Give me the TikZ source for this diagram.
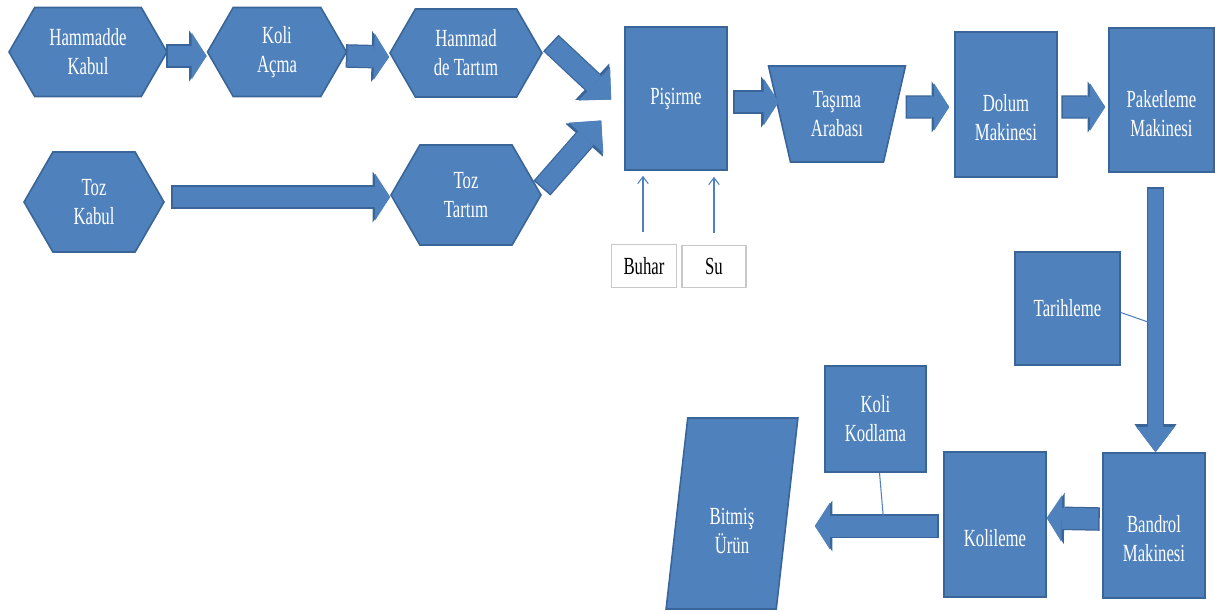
\documentclass[tikz,border=0pt]{standalone}
\usepackage{fontspec}
\setmainfont{Liberation Serif}[FakeStretch=0.68]
\usetikzlibrary{positioning,arrows.meta,shapes.geometric,shapes.symbols,calc}
\definecolor{kutumavi}{HTML}{4F81BD}
\definecolor{kenarmavi}{HTML}{3A6598}
\definecolor{kenargri}{HTML}{C8C8C8}
\newcommand{\ustbosluk}{\rule{0pt}{25pt}}

\begin{document}
\begin{tikzpicture}[x=0.02cm, y=-0.02cm,
    KT/.style={rectangle, draw=kenarmavi, fill=kutumavi, line width=0.9pt,
      text=white, font=\fontsize{14}{16.5}\selectfont, align=center,
      inner sep=1pt},
    HX/.style={KT, signal, signal to=east and west, signal pointer angle=120},
    GR/.style={rectangle, draw=kenargri, fill=white, line width=0.8pt,
      font=\fontsize{14}{16.5}\selectfont, inner sep=1pt,
      minimum width=1.3cm, minimum height=0.85cm},
    kalin/.style={draw=kutumavi, line width=0.42cm,
      -{Triangle[length=0.3cm, width=0.94cm, line width=0pt]},
      preaction={draw=kenarmavi, line width=0.47cm, shorten <=-0.03cm,
        -{Triangle[length=0.35cm, width=1.02cm, line width=0pt]}}},
    kalinc/.style={draw=kutumavi, line width=0.4cm,
      -{Triangle[length=0.46cm, width=0.92cm, line width=0pt]},
      preaction={draw=kenarmavi, line width=0.45cm, shorten <=-0.03cm,
        -{Triangle[length=0.52cm, width=1.0cm, line width=0pt]}}},
    kalind/.style={draw=kutumavi, line width=0.3cm,
      -{Triangle[length=0.5cm, width=0.76cm, line width=0pt]},
      preaction={draw=kenarmavi, line width=0.35cm, shorten <=-0.03cm,
        -{Triangle[length=0.56cm, width=0.84cm, line width=0pt]}}},
    ince/.style={draw=kutumavi, line width=0.6pt,
      -{Straight Barb[length=4pt, width=6pt]}}
  ]
    \useasboundingbox (0,0) rectangle (1215,612);

    %% ust sira (altigenler)
    \node[HX, minimum width=3.16cm, minimum height=1.78cm] (hk) at (88,52) {Hammadde\\Kabul};
    \node[HX, minimum width=2.78cm, minimum height=1.78cm] (ka) at (277,52) {Koli\\Açma};
    \node[HX, minimum width=3.04cm, minimum height=1.76cm] (ht) at (466,53) {Hammad\\de Tartım};

    %% toz hatti
    \node[HX, minimum width=2.8cm, minimum height=2.0cm] (tk) at (94,202) {Toz\\Kabul};
    \node[HX, minimum width=3.0cm, minimum height=2.0cm] (tt) at (466,195) {Toz\\Tartım};

    %% pisirme ve girdiler
    \node[KT, minimum width=2.04cm, minimum height=2.86cm] (pis) at (676,98.5) {Pişirme};
    \node[GR] (buhar) at (644,266) {Buhar};
    \node[GR, minimum width=1.28cm] (su) at (714,266.5) {Su};

    %% tasima ve makineler
    \node[KT, trapezium, shape border rotate=180, trapezium left angle=75,
      trapezium right angle=75, trapezium stretches=true,
      minimum width=2.74cm, minimum height=1.92cm] (ta) at (837,114) {Taşıma\\Arabası};
    \node[KT, minimum width=2.04cm, minimum height=2.9cm] (dm) at (1006,104.5) {\ustbosluk Dolum\\Makinesi};
    \node[KT, minimum width=2.1cm, minimum height=2.88cm] (pk) at (1161.5,100) {\ustbosluk Paketleme\\Makinesi};
    \node[KT, minimum width=2.1cm, minimum height=2.26cm] (th) at (1067.5,308.5) {Tarihleme};

    %% alt sira
    \node[KT, minimum width=2.04cm, minimum height=2.9cm] (bm) at (1154,525.5) {\ustbosluk Bandrol\\Makinesi};
    \node[KT, minimum width=2.04cm, minimum height=2.9cm] (kl) at (995,524.5) {\ustbosluk Kolileme};
    \node[KT, minimum width=2.02cm, minimum height=2.12cm] (kk) at (875.5,419) {Koli\\Kodlama};
    \node[KT, trapezium, trapezium left angle=82, trapezium right angle=98,
      trapezium stretches=true,
      minimum width=2.64cm, minimum height=3.82cm] (bu) at (732,513.5) {\rule{0pt}{29pt}Bitmiş\\Ürün};

    %% Oklar
    \draw[kalin] ([yshift=-0.08cm]hk.east) -- ([yshift=-0.08cm]ka.west);
    \draw[kalin] ([yshift=-0.08cm]ka.east) -- ([yshift=-0.08cm]ht.west);
    \draw[kalin] ([xshift=0.16cm, yshift=0.1cm]tk.east) coordinate (p4) -- (p4 -| tt.west);
    \draw[kalinc] ($(ht.east)+(9,-9)$) -- ($(pis.west)+(-13,1)$);
    \draw[kalinc] ($(tt.east)+(1,-8)$) -- ($(pis.west)+(-23,22)$);
    \draw[kalin] ([xshift=0.14cm, yshift=-0.07cm]pis.east) coordinate (p6) -- (p6 -| ta.west);
    \draw[kalin] ($(dm.west)+(-47,2.5)$) -- ([xshift=-0.1cm, yshift=-0.05cm]dm.west);
    \draw[kalin] ([xshift=0.1cm, yshift=-0.05cm]dm.east) -- ([xshift=-0.06cm, yshift=-0.14cm]pk.west);
    \draw[kalind] ($(pk.south)+(-6,16)$) coordinate (p9) -- (p9 |- bm.north);
    \draw[kalin] ([xshift=-0.08cm, yshift=0.13cm]bm.west) -- ([yshift=0.13cm]kl.east);
    \draw[kalin, shorten >=0.54cm] ([xshift=-0.12cm, yshift=-0.03cm]kl.west) coordinate (p11) -- (p11 -| bu.east);

    %% ince baglantilar
    \draw[ince, shorten <=0.24cm, shorten >=0.1cm] ([xshift=-0.02cm]buhar.north) -- ([xshift=-0.02cm]buhar.north |- pis.south);
    \draw[ince, shorten <=0.24cm, shorten >=0.12cm] (su.north) -- (su.north |- pis.south);
    \draw[draw=kutumavi, line width=0.6pt] ([yshift=-0.08cm]th.east) -- (1148,322);
    \draw[ince, -{Straight Barb[length=2pt, width=3pt]}] ([xshift=0.08cm]kk.south) -- (884,525);
  \end{tikzpicture}
\end{document}
